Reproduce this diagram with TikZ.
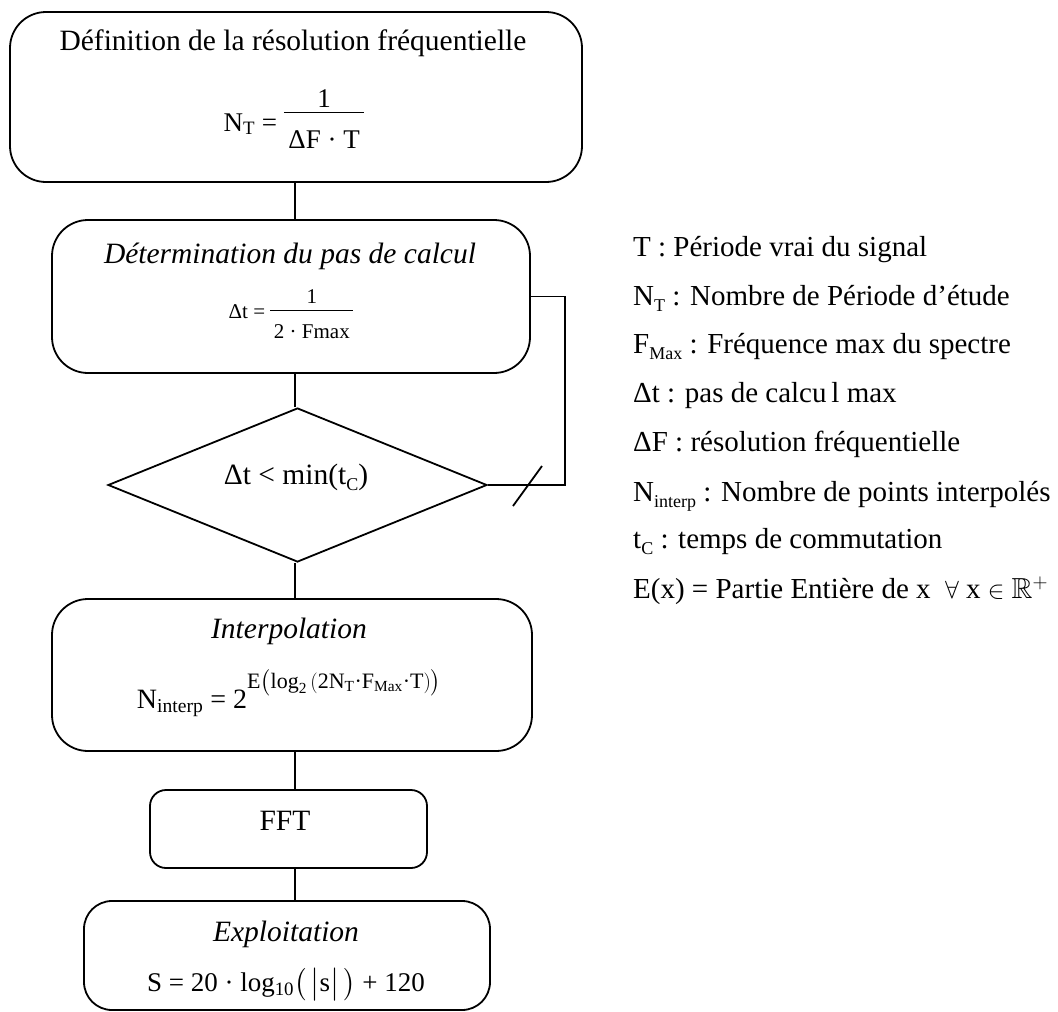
\documentclass[tikz,border=0pt]{standalone}
\usepackage{amsmath,amssymb}
\usepackage{fontspec}
\setmainfont{Liberation Serif}
\usetikzlibrary{shapes.geometric}
\newcommand{\lsub}[1]{\raisebox{-0.22em}{\fontsize{18}{18}\selectfont #1}}
% manual fraction: #1 num, #2 den, #3 gap above bar, #4 gap below bar, #5 bar thickness
% baseline of the result = baseline of the denominator
\newcommand{\mfrac}[5]{\vbox{\halign{\hfil##\hfil\cr #1\cr\noalign{\kern#3\hrule height #5\kern#4}#2\cr}}}
\tikzset{
  box/.style={draw, line width=1.8pt, rounded corners=36pt, inner sep=0pt},
  smallbox/.style={draw, line width=1.8pt, rounded corners=16pt, inner sep=0pt},
  link/.style={line width=1.8pt},
  ttl/.style={inner sep=0pt, anchor=base, font=\fontsize{29.5}{34}\selectfont},
  fml/.style={inner sep=0pt, anchor=base, font=\fontsize{27}{32}\selectfont},
  small/.style={inner sep=0pt, anchor=base, font=\fontsize{21}{25}\selectfont},
  leg/.style={inner sep=0pt, anchor=base west, font=\fontsize{29}{34}\selectfont},
}
\begin{document}
\begin{tikzpicture}[x=1pt,y=-1pt]
\useasboundingbox (0,0) rectangle (1058,1012);
% boxes
\node[box, minimum width=572pt, minimum height=170pt] (b1) at (296,97) {};
\node[box, minimum width=478pt, minimum height=153pt] (b2) at (291,296.5) {};
\node[draw, line width=1.8pt, diamond, inner sep=0pt, minimum width=379pt, minimum height=154pt] (dia) at (297.5,485) {};
\node[box, minimum width=480pt, minimum height=152pt] (b3) at (292,675) {};
\node[smallbox, minimum width=277pt, minimum height=78pt] (b4) at (288.5,829) {};
\node[box, rounded corners=28pt, minimum width=406pt, minimum height=109pt] (b5) at (287,955.5) {};
% connectors
\draw[link] (b1.south -| 295,0) -- (b2.north -| 295,0);
\draw[link] (b2.south -| 295,0) -- (dia.north -| 295,0);
\draw[link] (dia.south -| 295,0) -- (b3.north -| 295,0);
\draw[link] (b3.south -| 295,0) -- (b4.north -| 295,0);
\draw[link] (b4.south -| 295,0) -- (b5.north -| 295,0);
\coordinate (fb) at (565,485);
\draw[link] (b2.east) -| (fb) -- (dia.east);
\coordinate (t1) at (513,506);
\coordinate (t2) at (542,466);
\draw[link] (t1) -- (t2);
% box 1
\node[ttl] (b1t) at (293,50) {Définition de la résolution fréquentielle};
\node[fml] (b1f) at (294,131) {N$_{\text{T}}$ = \raisebox{-17pt}{\mfrac{1}{\,ΔF · T\,}{4pt}{17pt}{1.4pt}}};
% box 2
\node[ttl] (b2t) at (290,263) {\itshape Détermination du pas de calcul};
\node[small] (b2f) at (291,318) {Δt = \raisebox{-20pt}{\mfrac{1}{\,2 · Fmax\,}{6pt}{13pt}{1.2pt}}};
% diamond
\node[fml, font=\fontsize{29.5}{34}\selectfont] (dt) at (296,484) {Δt < min(t\lsub{C})};
% box 3
\node[ttl] (b3t) at (289,638) {\itshape Interpolation};
\node[fml, font=\fontsize{28}{33}\selectfont] (b3f) at (289,708) {N$_{\text{interp}}$ = 2\raisebox{20pt}{\fontsize{22}{26}\selectfont E$\left(\rule[-8pt]{0pt}{27pt}\text{log}_{\text{2}}\left(\rule[-6pt]{0pt}{22pt}\text{2N}_{\text{T}}\text{·F}_{\text{Max}}\text{·T}\right)\right)$}};
% FFT
\node[ttl] (b4t) at (285,830) {FFT};
% box 5
\node[ttl] (b5t) at (286,941) {\itshape Exploitation};
\node[fml] (b5f) at (286,991) {S = 20 · log$_{\text{10}}$$\bigl(\,\bigl|$s$\bigr|\,\bigr)$ + 120};
% legend
\node[leg] (l1) at (633,256) {T : Période vrai du signal};
\node[leg] (l2) at (633,305) {N\lsub{T} : Nombre de Période d{\char"0027}étude};
\node[leg] (l3) at (633,353) {F\lsub{Max} : Fréquence max du spectre};
\node[leg] (l4) at (633,402) {Δt : pas de calcu\,l max};
\node[leg] (l5) at (633,451) {ΔF : résolution fréquentielle};
\node[leg] (l6) at (633,501) {N\lsub{interp} : Nombre de points interpolés};
\node[leg] (l7) at (633,548) {t\lsub{C} : temps de commutation};
\node[leg] (l8) at (633,598) {E(x) = Partie Entière de x \ $\forall$ x $\in$ $\mathbb{R}^{+}$};
\end{tikzpicture}
\end{document}
